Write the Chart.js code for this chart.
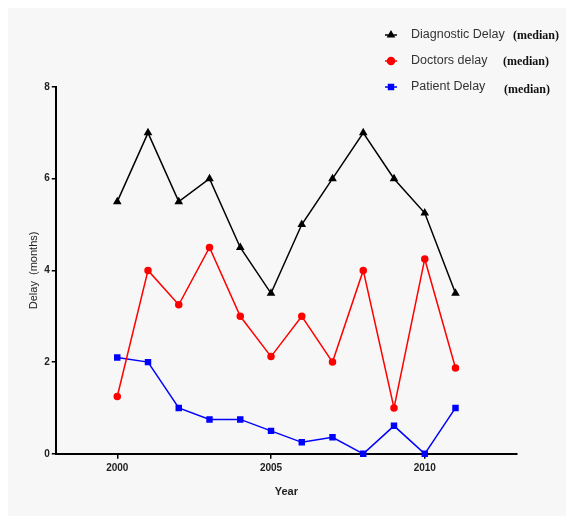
<!DOCTYPE html>
<html>
<head>
<meta charset="utf-8">
<script src="https://cdn.jsdelivr.net/npm/chart.js@4"></script>
<style>
  body { margin: 0; background: #ffffff; }
  #wrap { position: absolute; left: 8px; top: 8px; width: 558px; height: 508px; background: #f7f7f7; }
</style>
</head>
<body>
<div id="wrap"><canvas id="chartCanvas" width="558" height="508"></canvas></div>
<script>
const years = [2000, 2001, 2002, 2003, 2004, 2005, 2006, 2007, 2008, 2009, 2010, 2011];
const diagnosticDelay = [5.5, 7, 5.5, 6, 4.5, 3.5, 5, 6, 7, 6, 5.25, 3.5];
const doctorsDelay = [1.25, 4, 3.25, 4.5, 3, 2.12, 3, 2, 4, 1, 4.25, 1.87];
const patientDelay = [2.1, 2, 1, 0.75, 0.75, 0.5, 0.25, 0.36, 0, 0.61, 0, 1];
const xTicks = [2000, 2005, 2010];
const yTicks = [0, 2, 4, 6, 8];

function pts(values){
    return values.map((v, i) => ({x: years[i], y: v}));
}

// legend drawn by hand: label in sans, "(median)" in bold serif
const legendRows = [
    {label: "Diagnostic Delay", note: "(median)", noteX: 505, y: 27, noteY: 28},
    {label: "Doctors delay", note: "(median)", noteX: 495, y: 53, noteY: 54},
    {label: "Patient Delay", note: "(median)", noteX: 496, y: 79, noteY: 82}
];

const legendPlugin = {
    id: 'handLegend',
    afterDraw(chart){
        const ctx = chart.ctx;
        ctx.save();
        legendRows.forEach((row, i) => {
            const ds = chart.data.datasets[i];
            ctx.strokeStyle = ds.borderColor;
            ctx.lineWidth = 1.5;
            ctx.beginPath();
            ctx.moveTo(377, row.y);
            ctx.lineTo(389, row.y);
            ctx.stroke();
            Chart.helpers.drawPoint(ctx, {pointStyle: ds.pointStyle, radius: 3.5, rotation: 0, borderWidth: 1}, 383, row.y);
            ctx.fillStyle = ds.borderColor;
            ctx.fill();
            ctx.fillStyle = '#333333';
            ctx.font = '12.5px "Liberation Sans", Arial, sans-serif';
            ctx.textBaseline = 'middle';
            ctx.fillText(row.label, 403, row.y);
            ctx.fillStyle = '#111111';
            ctx.font = 'bold 12px "Liberation Serif", "Times New Roman", serif';
            ctx.fillText(row.note, row.noteX, row.noteY);
        });
        ctx.restore();
    }
};

const data = {
    datasets: [
        {
            label: "Diagnostic Delay (median)",
            data: pts(diagnosticDelay),
            borderColor: '#000000',
            backgroundColor: '#000000',
            pointStyle: 'triangle',
            pointRadius: 3.5,
            borderWidth: 1.5
        },
        {
            label: "Doctors delay (median)",
            data: pts(doctorsDelay),
            borderColor: '#ff0000',
            backgroundColor: '#ff0000',
            pointStyle: 'circle',
            pointRadius: 3,
            borderWidth: 1.5
        },
        {
            label: "Patient Delay (median)",
            data: pts(patientDelay),
            borderColor: '#0000ff',
            backgroundColor: '#0000ff',
            pointStyle: 'rect',
            pointRadius: 3.5,
            borderWidth: 1.5
        }
    ]
};

const tickFont = {family: '"Liberation Sans", Arial, sans-serif', size: 10, weight: 'bold'};

const config = {
    type: 'line',
    data: data,
    options: {
        responsive: false,
        animation: false,
        clip: false,
        layout: {padding: {left: 15, top: 79, right: 49, bottom: 13}},
        plugins: {legend: {display: false}, tooltip: {enabled: false}},
        scales: {
            x: {
                type: 'linear',
                min: 1998,
                max: 2013,
                afterBuildTicks: s => { s.ticks = xTicks.map(v => ({value: v})); },
                border: {color: '#000000', width: 2},
                grid: {drawOnChartArea: false, color: '#000000', lineWidth: 1.5, tickLength: 5},
                ticks: {color: '#222222', font: tickFont, padding: 3, maxRotation: 0,
                        callback: v => String(v)},
                title: {display: true, text: 'Year', color: '#222222',
                        font: {family: '"Liberation Sans", Arial, sans-serif', size: 11, weight: 'bold'},
                        padding: {top: 9}}
            },
            y: {
                min: 0,
                max: 8,
                afterBuildTicks: s => { s.ticks = yTicks.map(v => ({value: v})); },
                border: {color: '#000000', width: 2},
                grid: {drawOnChartArea: false, color: '#000000', lineWidth: 1.5, tickLength: 4},
                ticks: {color: '#222222', font: tickFont, padding: 2},
                title: {display: true, text: 'Delay  (months)', color: '#222222',
                        font: {family: '"Liberation Sans", Arial, sans-serif', size: 11},
                        padding: {bottom: 2}}
            }
        }
    },
    plugins: [legendPlugin]
};

let myChart = new Chart(document.getElementById('chartCanvas'), config);
</script>
</body>
</html>
